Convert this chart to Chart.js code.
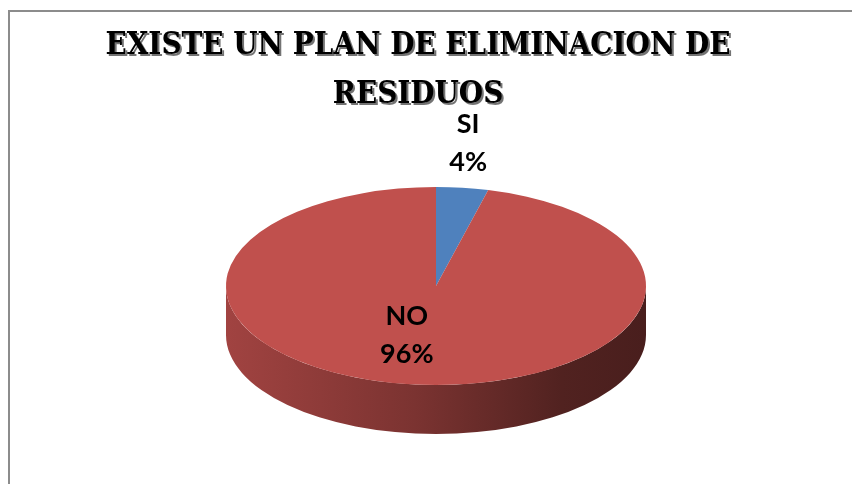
<!DOCTYPE html>
<html>
<head>
<meta charset="utf-8">
<title>Plan de eliminacion de residuos</title>
<script src="https://cdn.jsdelivr.net/npm/chart.js@4.4.1/dist/chart.umd.min.js"></script>
<style>
  html, body { margin: 0; padding: 0; background: #fff; }
  canvas { display: block; }
</style>
</head>
<body>
<canvas id="chart" width="852" height="484"></canvas>
<script>
// encuesta: existe un plan de eliminacion de residuos?
var categories = ["SI", "NO"];
var values = [4, 96];
var sliceColors = ["#4F81BD", "#C0504D"];
var titleLines = ["EXISTE UN PLAN DE ELIMINACION DE", "RESIDUOS"];

function shade(hex, f) {
  var n = parseInt(hex.slice(1), 16);
  var r = Math.round(((n >> 16) & 255) * f);
  var g = Math.round(((n >> 8) & 255) * f);
  var b = Math.round((n & 255) * f);
  return "rgb(" + r + "," + g + "," + b + ")";
}

// frame around the chart (only top and left edges fall inside the canvas)
var framePlugin = {
  id: "frame",
  beforeDraw(chart) {
    var ctx = chart.ctx;
    ctx.save();
    ctx.fillStyle = "#8c8c8c";
    ctx.fillRect(8, 10, chart.width - 8, 2);
    ctx.fillRect(8, 10, 2, chart.height - 10);
    // shade behind the title letters
    ctx.shadowColor = "rgba(0,0,0,0.55)";
    ctx.shadowOffsetX = 2;
    ctx.shadowOffsetY = 2;
  },
  beforeDatasetsDraw(chart) {
    chart.ctx.restore();
  },
};

// tilts the pie into an ellipse and extrudes the front rim
var pie3dPlugin = {
  id: "pie3d",
  beforeDatasetsDraw(chart, args, opts) {
    var ctx = chart.ctx;
    var meta = chart.getDatasetMeta(0);
    var arcs = meta.data;
    var R = arcs[0].outerRadius;
    var ox = arcs[0].x, oy = arcs[0].y;
    var cx = opts.cx, cy = opts.cy, rx = opts.rx, ry = opts.ry, depth = opts.depth;

    // rim: only the part of each slice facing the viewer (0..PI)
    arcs.forEach(function (arc, i) {
      var a0 = arc.startAngle, a1 = arc.endAngle;
      var col = chart.data.datasets[0].backgroundColor[i];
      for (var k = -1; k <= 1; k++) {
        var s = Math.max(a0, k * 2 * Math.PI);
        var e = Math.min(a1, k * 2 * Math.PI + Math.PI);
        if (e <= s) continue;
        var grad = ctx.createLinearGradient(cx - rx, 0, cx + rx, 0);
        grad.addColorStop(0, shade(col, 0.84));
        grad.addColorStop(0.45, shade(col, 0.64));
        grad.addColorStop(0.8, shade(col, 0.42));
        grad.addColorStop(1, shade(col, 0.38));
        ctx.save();
        ctx.beginPath();
        ctx.ellipse(cx, cy, rx, ry, 0, s, e, false);
        ctx.ellipse(cx, cy + depth, rx, ry, 0, e, s, true);
        ctx.closePath();
        ctx.fillStyle = grad;
        ctx.fill();
        ctx.restore();
      }
    });

    ctx.save();
    ctx.translate(cx, cy);
    ctx.scale(rx / R, ry / R);
    ctx.translate(-ox, -oy);
  },
  afterDatasetsDraw(chart, args, opts) {
    var ctx = chart.ctx;
    ctx.restore();

    // value labels placed along each slice's middle angle
    var meta = chart.getDatasetMeta(0);
    var data = chart.data.datasets[0].data;
    var total = data.reduce(function (a, b) { return a + b; }, 0);
    ctx.save();
    ctx.fillStyle = "#000";
    ctx.font = "bold 27px Lato, 'Open Sans', sans-serif";
    ctx.textAlign = "center";
    ctx.textBaseline = "middle";
    meta.data.forEach(function (arc, i) {
      var mid = (arc.startAngle + arc.endAngle) / 2;
      var f = opts.labelRadius[i];
      var x = opts.cx + opts.rx * f * Math.cos(mid) + opts.labelShift[i];
      var y = opts.cy + opts.ry * f * Math.sin(mid);
      var pct = Math.round(data[i] / total * 100) + "%";
      ctx.fillText(chart.data.labels[i], x, y - 19);
      ctx.fillText(pct, x, y + 19);
    });
    ctx.restore();
  },
};

var config = {
  type: "pie",
  data: {
    labels: categories,
    datasets: [
      {
        data: values,
        backgroundColor: sliceColors,
        borderWidth: 0,
      },
    ],
  },
  options: {
    responsive: false,
    animation: false,
    events: [],
    layout: { padding: { top: 21, right: 16, bottom: 20, left: 0 } },
    plugins: {
      legend: { display: false },
      tooltip: { enabled: false },
      title: {
        display: true,
        text: titleLines,
        color: "#000",
        font: {
          family: "'DejaVu Serif Condensed', 'DejaVu Serif', serif",
          weight: "bold",
          size: 31,
          lineHeight: 1.58,
        },
        padding: { top: 0, bottom: 10 },
      },
      pie3d: {
        cx: 436,
        cy: 286,
        rx: 210,
        ry: 99,
        depth: 49,
        labelRadius: [1.45, 0.5],
        labelShift: [-6, -16],
      },
    },
  },
  plugins: [framePlugin, pie3dPlugin],
};

new Chart(document.getElementById("chart"), config);
</script>
</body>
</html>
